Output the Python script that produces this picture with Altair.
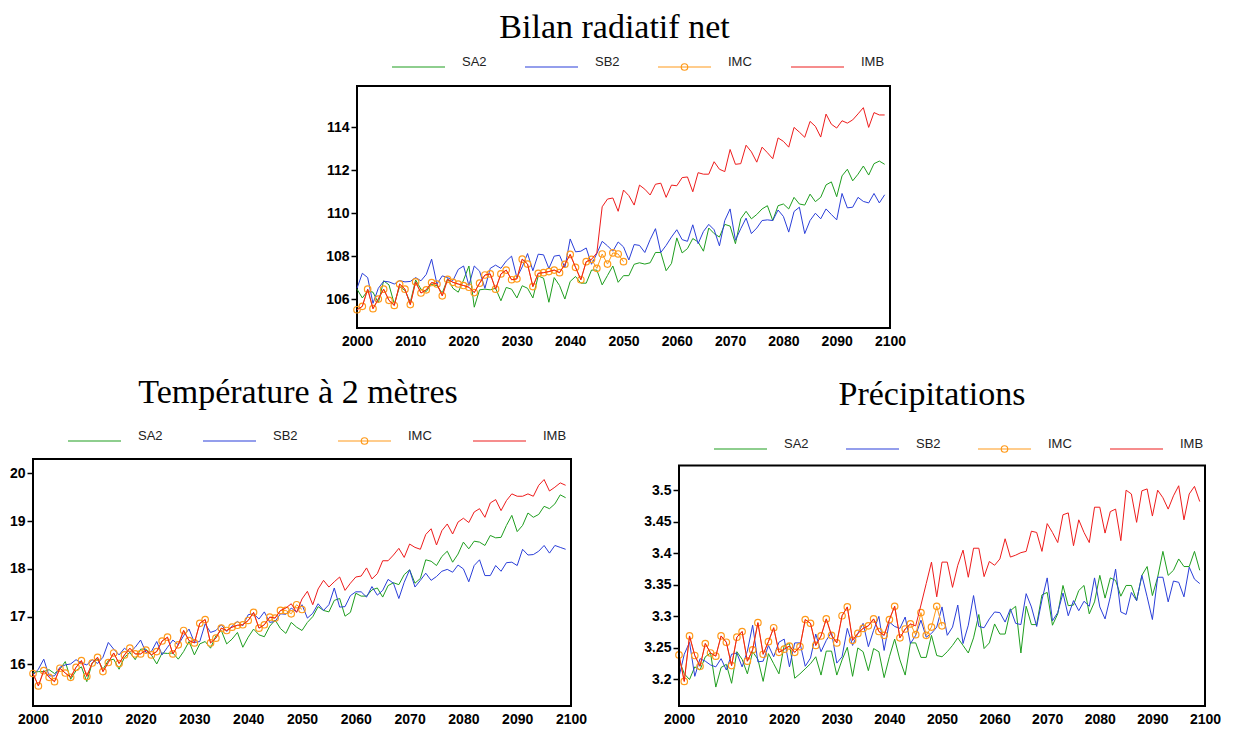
import altair as alt
import pandas as pd

SERIES = ["SA2", "SB2", "IMC", "IMB"]
COLORS = ["#1f9e1f", "#2b3fd9", "#ff9a1a", "#ee1c1c"]
X_TICKS = [2000, 2010, 2020, 2030, 2040, 2050, 2060, 2070, 2080, 2090, 2100]
YEARS = list(range(2000, 2100))
YEARS_IMC = list(range(2000, 2051))

# ---------------- Bilan radiatif net ----------------
bil_sa2 = [106.46, 106.05, 106.38, 106.32, 105.82, 106.85, 106.66, 105.77, 106.58, 106.40,
           105.85, 106.89, 106.46, 106.35, 106.70, 106.62, 106.28, 106.95, 106.50, 106.32,
           106.89, 107.54, 105.62, 106.43, 106.46, 106.43, 106.50, 105.92, 106.54, 106.46,
           106.05, 106.62, 106.50, 106.05, 107.08, 106.97, 105.85, 107.00, 106.63, 106.00,
           106.82, 107.05, 106.74, 106.74, 107.35, 107.35, 106.66, 107.10, 107.54, 106.78,
           107.09, 107.09, 107.62, 107.69, 107.63, 107.69, 108.17, 108.17, 107.32, 107.66,
           108.85, 108.15, 108.35, 108.82, 108.66, 108.23, 109.31, 109.05, 108.89, 109.48,
           109.40, 108.58, 109.74, 110.09, 109.74, 109.94, 110.20, 110.35, 109.66, 110.35,
           110.43, 110.20, 110.74, 110.43, 110.38, 110.89, 110.54, 110.74, 111.32, 111.46,
           110.77, 111.74, 112.05, 111.51, 111.82, 112.20, 111.78, 112.31, 112.43, 112.28]
bil_sb2 = [106.50, 107.20, 107.00, 105.80, 106.50, 106.83, 106.80, 106.70, 106.86, 106.80,
           106.82, 107.00, 106.85, 107.15, 107.86, 106.70, 107.08, 107.00, 106.86, 107.38,
           107.54, 106.63, 107.54, 107.30, 106.50, 107.43, 107.58, 107.43, 107.77, 108.00,
           107.00, 107.50, 108.12, 107.32, 108.09, 108.06, 107.42, 108.00, 108.04, 107.46,
           108.80, 108.20, 108.23, 108.38, 107.62, 108.12, 108.69, 108.48, 108.23, 108.66,
           108.43, 107.82, 108.54, 108.50, 108.17, 108.77, 109.28, 108.17, 108.50, 108.89,
           109.23, 108.77, 108.69, 109.46, 108.58, 109.15, 109.48, 109.23, 108.48, 109.66,
           110.20, 108.74, 109.28, 109.77, 109.05, 109.31, 109.66, 109.69, 109.66, 110.15,
           109.85, 109.12, 110.08, 110.28, 109.05, 109.66, 110.00, 109.74, 110.20, 109.94,
           109.69, 110.92, 110.25, 110.28, 110.74, 110.55, 110.48, 110.92, 110.48, 110.86]
bil_imc = [105.50, 105.66, 106.46, 105.55, 106.00, 106.46, 105.94, 105.70, 106.70, 106.46,
           105.74, 106.80, 106.28, 106.43, 106.77, 106.70, 106.15, 106.92, 106.78, 106.70,
           106.63, 106.55, 106.30, 106.74, 107.12, 107.17, 106.46, 107.17, 107.35, 106.90,
           106.94, 107.86, 107.63, 106.58, 107.20, 107.23, 107.28, 107.35, 107.23, 107.62,
           108.08, 107.48, 106.90, 107.74, 107.85, 107.43, 108.10, 107.63, 108.15, 108.10,
           107.74]
bil_imb = [105.50, 105.66, 106.46, 105.55, 106.00, 106.46, 105.94, 105.70, 106.70, 106.46,
           105.74, 106.80, 106.28, 106.43, 106.77, 106.70, 106.15, 106.92, 106.78, 106.70,
           106.63, 106.55, 106.30, 106.74, 107.12, 107.17, 106.46, 107.17, 107.35, 106.90,
           106.94, 107.86, 107.63, 106.58, 107.20, 107.23, 107.28, 107.35, 107.23, 107.62,
           108.08, 107.48, 106.90, 107.74, 107.85, 108.15, 110.30, 110.66, 110.71, 110.09,
           111.08, 110.82, 110.38, 111.31, 111.12, 110.85, 111.35, 111.40, 110.74, 111.31,
           111.28, 111.66, 111.69, 111.00, 111.89, 111.82, 111.82, 112.40, 112.05, 111.94,
           112.97, 112.28, 112.31, 113.17, 112.86, 112.38, 113.08, 112.82, 112.54, 113.51,
           113.35, 113.08, 114.00, 113.78, 113.54, 114.28, 114.05, 113.55, 114.62, 114.15,
           113.97, 114.31, 114.20, 114.35, 114.63, 114.92, 114.00, 114.69, 114.58, 114.58]

# ---------------- Température à 2 mètres ----------------
tas_sa2 = [15.83, 15.85, 15.85, 15.89, 15.81, 15.90, 16.06, 15.69, 15.87, 15.95,
           15.64, 16.03, 16.11, 15.90, 16.08, 16.11, 15.90, 16.15, 16.25, 16.10,
           16.32, 16.32, 16.20, 16.01, 16.24, 16.23, 16.24, 16.11, 16.27, 16.48,
           16.20, 16.43, 16.48, 16.34, 16.60, 16.71, 16.43, 16.53, 16.67, 16.36,
           16.57, 16.74, 16.62, 16.58, 16.80, 16.93, 16.75, 16.65, 16.88, 16.78,
           16.71, 16.88, 17.00, 17.21, 17.13, 17.10, 17.34, 17.38, 17.01, 17.09,
           17.49, 17.43, 17.43, 17.56, 17.60, 17.41, 17.65, 17.71, 17.67, 17.88,
           17.98, 17.70, 17.80, 18.19, 18.16, 18.07, 18.26, 18.37, 18.14, 18.31,
           18.56, 18.42, 18.58, 18.56, 18.49, 18.70, 18.65, 18.66, 18.91, 19.12,
           18.78, 18.91, 19.17, 19.08, 19.14, 19.31, 19.26, 19.36, 19.55, 19.49]
tas_sb2 = [15.78, 15.90, 16.11, 15.76, 15.76, 15.94, 15.99, 16.01, 16.10, 16.03,
           15.99, 16.10, 16.02, 16.15, 16.46, 16.32, 16.20, 16.34, 16.25, 16.36,
           16.51, 16.25, 16.27, 16.48, 16.20, 16.36, 16.51, 16.41, 16.60, 16.74,
           16.46, 16.48, 16.85, 16.67, 16.71, 16.83, 16.69, 16.80, 16.90, 16.81,
           17.04, 17.06, 16.95, 17.10, 16.88, 16.90, 17.06, 17.05, 17.18, 17.10,
           17.25, 16.97, 17.07, 17.27, 17.13, 17.25, 17.60, 17.20, 17.21, 17.44,
           17.52, 17.52, 17.41, 17.63, 17.45, 17.55, 17.78, 17.70, 17.38, 17.72,
           17.98, 17.62, 17.76, 17.91, 17.76, 17.84, 17.95, 17.99, 17.93, 18.08,
           18.00, 17.73, 18.07, 18.19, 17.86, 17.86, 18.07, 17.95, 18.13, 18.14,
           18.07, 18.41, 18.29, 18.30, 18.37, 18.49, 18.33, 18.49, 18.45, 18.41]
tas_imc = [15.81, 15.55, 15.87, 15.73, 15.64, 15.92, 15.82, 15.73, 15.94, 16.08,
           15.75, 16.03, 16.15, 15.85, 16.04, 16.24, 16.02, 16.20, 16.34, 16.22,
           16.22, 16.30, 16.20, 16.27, 16.49, 16.57, 16.22, 16.41, 16.71, 16.50,
           16.45, 16.86, 16.94, 16.45, 16.55, 16.76, 16.71, 16.78, 16.82, 16.83,
           16.92, 17.09, 16.76, 16.83, 16.99, 16.97, 17.13, 17.13, 17.06, 17.25,
           17.15]
tas_imb = [15.81, 15.55, 15.87, 15.73, 15.64, 15.92, 15.82, 15.73, 15.94, 16.08,
           15.75, 16.03, 16.15, 15.85, 16.04, 16.24, 16.02, 16.20, 16.34, 16.22,
           16.22, 16.30, 16.20, 16.27, 16.49, 16.57, 16.22, 16.41, 16.71, 16.50,
           16.45, 16.86, 16.94, 16.45, 16.55, 16.76, 16.71, 16.78, 16.82, 16.83,
           16.92, 17.09, 16.76, 16.83, 16.99, 16.97, 17.13, 17.18, 17.27, 17.09,
           17.37, 17.53, 17.25, 17.58, 17.76, 17.62, 17.73, 17.83, 17.55, 17.70,
           17.83, 17.85, 18.02, 17.79, 17.90, 18.17, 18.17, 18.29, 18.43, 18.24,
           18.52, 18.45, 18.41, 18.72, 18.84, 18.50, 18.80, 18.94, 18.73, 18.98,
           19.06, 18.97, 19.19, 19.26, 19.08, 19.38, 19.45, 19.22, 19.43, 19.57,
           19.52, 19.52, 19.57, 19.52, 19.75, 19.87, 19.63, 19.71, 19.80, 19.75]

# ---------------- Précipitations ----------------
pr_sa2 = [3.232, 3.209, 3.200, 3.220, 3.215, 3.236, 3.242, 3.188, 3.219, 3.224,
          3.194, 3.244, 3.232, 3.209, 3.244, 3.232, 3.197, 3.241, 3.225, 3.209,
          3.254, 3.257, 3.202, 3.209, 3.217, 3.225, 3.236, 3.207, 3.245, 3.245,
          3.207, 3.231, 3.251, 3.205, 3.250, 3.244, 3.214, 3.249, 3.244, 3.203,
          3.236, 3.264, 3.231, 3.207, 3.258, 3.258, 3.235, 3.235, 3.270, 3.238,
          3.236, 3.244, 3.254, 3.266, 3.254, 3.242, 3.266, 3.303, 3.249, 3.258,
          3.288, 3.272, 3.272, 3.309, 3.316, 3.242, 3.316, 3.287, 3.287, 3.334,
          3.338, 3.286, 3.304, 3.349, 3.317, 3.318, 3.341, 3.349, 3.304, 3.323,
          3.365, 3.329, 3.361, 3.357, 3.332, 3.349, 3.349, 3.325, 3.365, 3.379,
          3.333, 3.362, 3.403, 3.365, 3.373, 3.391, 3.379, 3.379, 3.403, 3.373]
pr_sb2 = [3.204, 3.240, 3.259, 3.205, 3.233, 3.229, 3.223, 3.220, 3.233, 3.215,
          3.240, 3.242, 3.220, 3.245, 3.286, 3.228, 3.229, 3.254, 3.236, 3.259,
          3.264, 3.220, 3.258, 3.258, 3.221, 3.234, 3.272, 3.244, 3.262, 3.275,
          3.226, 3.236, 3.281, 3.254, 3.273, 3.289, 3.252, 3.278, 3.300, 3.246,
          3.291, 3.284, 3.281, 3.299, 3.257, 3.270, 3.294, 3.267, 3.273, 3.283,
          3.315, 3.270, 3.283, 3.318, 3.257, 3.286, 3.333, 3.284, 3.282, 3.296,
          3.307, 3.306, 3.291, 3.312, 3.289, 3.287, 3.336, 3.315, 3.284, 3.326,
          3.361, 3.293, 3.306, 3.337, 3.301, 3.325, 3.309, 3.324, 3.316, 3.361,
          3.315, 3.296, 3.331, 3.375, 3.307, 3.303, 3.338, 3.325, 3.365, 3.331,
          3.295, 3.362, 3.362, 3.323, 3.356, 3.354, 3.331, 3.378, 3.359, 3.352]
pr_imc = [3.239, 3.197, 3.269, 3.238, 3.221, 3.257, 3.242, 3.237, 3.269, 3.259,
          3.222, 3.267, 3.276, 3.229, 3.247, 3.290, 3.240, 3.260, 3.282, 3.243,
          3.248, 3.253, 3.243, 3.252, 3.295, 3.289, 3.254, 3.269, 3.296, 3.270,
          3.258, 3.301, 3.315, 3.262, 3.273, 3.281, 3.285, 3.296, 3.276, 3.270,
          3.295, 3.316, 3.266, 3.280, 3.288, 3.271, 3.306, 3.270, 3.283, 3.316,
          3.285]
pr_imb = [3.239, 3.197, 3.269, 3.238, 3.221, 3.257, 3.242, 3.237, 3.269, 3.259,
          3.222, 3.267, 3.276, 3.229, 3.247, 3.290, 3.240, 3.260, 3.282, 3.243,
          3.248, 3.253, 3.243, 3.252, 3.295, 3.289, 3.254, 3.269, 3.296, 3.270,
          3.258, 3.301, 3.315, 3.262, 3.273, 3.281, 3.285, 3.296, 3.276, 3.270,
          3.295, 3.316, 3.266, 3.280, 3.288, 3.285, 3.318, 3.352, 3.386, 3.331,
          3.386, 3.386, 3.346, 3.381, 3.405, 3.362, 3.408, 3.408, 3.363, 3.387,
          3.381, 3.391, 3.423, 3.394, 3.397, 3.401, 3.403, 3.435, 3.433, 3.403,
          3.447, 3.433, 3.417, 3.461, 3.464, 3.412, 3.453, 3.433, 3.417, 3.473,
          3.473, 3.432, 3.466, 3.470, 3.420, 3.500, 3.494, 3.449, 3.499, 3.502,
          3.459, 3.500, 3.488, 3.470, 3.491, 3.507, 3.453, 3.494, 3.506, 3.482]

LABEL_FONT = "Liberation Sans"
TITLE_FONT = "Liberation Serif"


def make_df(sa2, sb2, imc, imb):
    parts = []
    for name, yrs, vals in (("SA2", YEARS, sa2), ("SB2", YEARS, sb2),
                            ("IMC", YEARS_IMC, imc), ("IMB", YEARS, imb)):
        parts.append(pd.DataFrame({"series": name, "year": yrs, "value": vals}))
    return pd.concat(parts, ignore_index=True)


legend_df = pd.DataFrame({"series": SERIES, "slot": [0, 1, 2, 3]})


def panel(df, title, ydom, yticks, yfmt, W, H, tdx, toff, ly, step, frame_top=None):
    color = alt.Color("series:N", scale=alt.Scale(domain=SERIES, range=COLORS), legend=None)
    x = alt.X("year:Q", scale=alt.Scale(domain=[2000, 2100], nice=False, zero=False),
              axis=alt.Axis(values=X_TICKS, format="d", ticks=False, domain=False, grid=False,
                            labelPadding=6, labelFont=LABEL_FONT, labelFontSize=14,
                            labelFontWeight="bold", labelColor="black", title=None,
                            labelFlush=False))
    y = alt.Y("value:Q", scale=alt.Scale(domain=ydom, nice=False, zero=False),
              axis=alt.Axis(values=yticks, format=yfmt, tickSize=6, tickColor="black",
                            tickWidth=1.5, domain=False, grid=False, labelPadding=2,
                            labelFont=LABEL_FONT, labelFontSize=14, labelFontWeight="bold",
                            labelColor="black", title=None))
    base = alt.Chart(df)

    def line_of(name):
        return base.transform_filter(alt.datum.series == name).mark_line(strokeWidth=1).encode(
            x=x, y=y, color=color)

    imc_pts = base.transform_filter(alt.datum.series == "IMC").mark_point(
        shape="circle", filled=False, size=42, strokeWidth=1.2, opacity=1).encode(x=x, y=y, color=color)
    layers = [line_of("SA2"), line_of("SB2"), line_of("IMC"), imc_pts, line_of("IMB")]
    view = alt.ViewBackground(stroke="black", strokeWidth=2)
    if frame_top is not None:
        frame = alt.Chart(legend_df.head(1)).mark_rect(
            fill="transparent", stroke="black", strokeWidth=2).encode(
            x=alt.X(datum=2000), x2=alt.X2(datum=2100),
            y=alt.Y(datum=frame_top), y2=alt.Y2(datum=ydom[0]))
        layers.append(frame)
        view = alt.ViewBackground(strokeWidth=0)
    data_layer = alt.layer(*layers)

    lx = alt.X("slot:Q", scale=alt.Scale(domain=[-35.0 / step, (W - 35.0) / step], nice=False, zero=False),
               axis=None)
    lbase = alt.Chart(legend_df)
    leg_rule = lbase.mark_rule(x2Offset=53, strokeWidth=1.2).encode(
        x=lx, x2=alt.X2("slot"), y=alt.value(ly), color=color)
    leg_pt = lbase.transform_filter(alt.datum.series == "IMC").mark_point(
        shape="circle", filled=False, size=42, strokeWidth=1.2, opacity=1, xOffset=26.5).encode(
        x=lx, y=alt.value(ly), color=color)
    leg_text = lbase.mark_text(align="left", baseline="middle", dx=70, dy=-5,
                               font=LABEL_FONT, fontSize=13, color="#222222").encode(
        x=lx, y=alt.value(ly), text="series:N")
    leg_layer = alt.layer(leg_rule, leg_pt, leg_text)

    return alt.layer(data_layer, leg_layer).resolve_scale(x="independent").properties(
        width=W, height=H, view=view,
        title=alt.TitleParams(text=title, font=TITLE_FONT, fontSize=34, fontWeight="normal",
                              color="black", anchor="middle", frame="group", dx=tdx, offset=toff))


top = panel(make_df(bil_sa2, bil_sb2, bil_imc, bil_imb), "Bilan radiatif net",
            [104.65, 115.93], [106, 108, 110, 112, 114], "d", 533, 242, -9, 11, -19, 133.0)
left = panel(make_df(tas_sa2, tas_sb2, tas_imc, tas_imb), "Température à 2 mètres",
             [15.13, 20.3], [16, 17, 18, 19, 20], "d", 538, 247, -4, 20, -18, 135.0)
right = panel(make_df(pr_sa2, pr_sb2, pr_imc, pr_imb), "Précipitations",
              [3.158, 3.5494], [3.2, 3.25, 3.3, 3.35, 3.4, 3.45, 3.5], ".2~f", 526, 247, -10, 26, -10,
              132.0, frame_top=3.539)

spacer = alt.Chart(pd.DataFrame({"v": [0]})).mark_point(opacity=0).properties(width=291, height=10)

top_row = alt.hconcat(spacer, top, spacing=0)
bottom_row = alt.hconcat(left, right, spacing=55)

chart = alt.vconcat(top_row, bottom_row, spacing=26).properties(
    padding={"top": 2, "left": 0, "right": 0, "bottom": 0}).configure_view(
    strokeWidth=0).configure(background="white")

chart.save("out.html", embed_options={"renderer": "svg", "actions": False})
